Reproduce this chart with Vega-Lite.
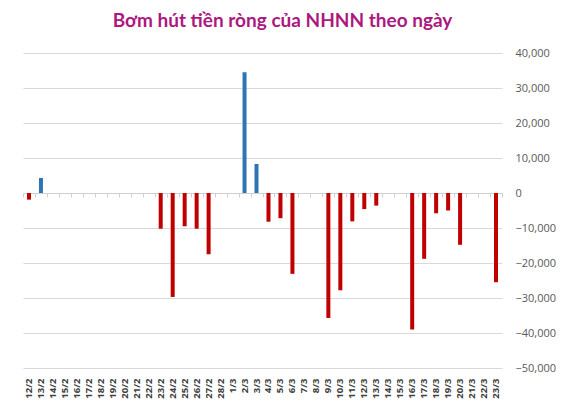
{
  "$schema": "https://vega.github.io/schema/vega-lite/v6.json",
  "autosize": "none",
  "width": 479,
  "height": 315,
  "padding": {"left": 23, "top": 53, "right": 60, "bottom": 39},
  "background": "white",
  "title": {
    "text": "Bơm hút tiền ròng của NHNN theo ngày",
    "font": "Lato",
    "fontSize": 19,
    "fontWeight": "bold",
    "color": "#AD1780",
    "anchor": "middle",
    "baseline": "alphabetic",
    "dx": 20,
    "offset": 1
  },
  "config": {
    "view": {"stroke": null},
    "axis": {"labelFont": "Open Sans", "titleFont": "Open Sans"},
    "axisY": {"title": null, "labelAlign": "left", "labelPadding": 13, "labelFontSize": 11, "labelColor": "#595959", "domain": false, "ticks": false, "grid": true, "gridColor": "#d9d9d9", "gridWidth": 1}
  },
  "data": {
    "values": [
      {"d": "12/2", "v": -1900},
      {"d": "13/2", "v": 4300},
      {"d": "23/2", "v": -10200},
      {"d": "24/2", "v": -29700},
      {"d": "25/2", "v": -9500},
      {"d": "26/2", "v": -10200},
      {"d": "27/2", "v": -17500},
      {"d": "2/3", "v": 34500},
      {"d": "3/3", "v": 8300},
      {"d": "4/3", "v": -8200},
      {"d": "5/3", "v": -7200},
      {"d": "6/3", "v": -23100},
      {"d": "9/3", "v": -35700},
      {"d": "10/3", "v": -27800},
      {"d": "11/3", "v": -8100},
      {"d": "12/3", "v": -4600},
      {"d": "13/3", "v": -3600},
      {"d": "16/3", "v": -39000},
      {"d": "17/3", "v": -18800},
      {"d": "18/3", "v": -5800},
      {"d": "19/3", "v": -5000},
      {"d": "20/3", "v": -14800},
      {"d": "23/3", "v": -25500}
    ]
  },
  "resolve": {"axis": {"x": "independent"}},
  "layer": [
    {
      "mark": {"type": "point", "opacity": 0},
      "encoding": {
        "x": {
          "field": "d", "type": "ordinal",
          "scale": {"domain": ["12/2","13/2","14/2","15/2","16/2","17/2","18/2","19/2","20/2","21/2","22/2","23/2","24/2","25/2","26/2","27/2","28/2","1/3","2/3","3/3","4/3","5/3","6/3","7/3","8/3","9/3","10/3","11/3","12/3","13/3","14/3","15/3","16/3","17/3","18/3","19/3","20/3","21/3","22/3","23/3"], "paddingInner": 0, "paddingOuter": 0},
          "axis": {"orient": "bottom", "offset": -175, "labels": false, "title": null, "domain": true, "domainColor": "#d0d0d0", "domainWidth": 1, "ticks": true, "tickColor": "#d0d0d0", "tickSize": 4, "tickBand": "extent", "grid": false}
        },
        "y": {
          "datum": 0, "type": "quantitative",
          "scale": {"domain": [-50000, 40000], "nice": false},
          "axis": {"orient": "right", "format": ",.0f", "values": [-50000,-40000,-30000,-20000,-10000,0,10000,20000,30000,40000]}
        }
      }
    },
    {
      "mark": {"type": "bar", "size": 4},
      "encoding": {
        "x": {
          "field": "d", "type": "ordinal",
          "axis": {"orient": "bottom", "title": null, "labelAngle": -90, "labelFont": "Open Sans", "labelFontSize": 9.5, "labelFontWeight": "bold", "labelColor": "#404040", "labelPadding": 10, "domain": false, "ticks": false, "grid": false}
        },
        "y": {
          "field": "v", "type": "quantitative",
          "scale": {"domain": [-50000, 40000], "nice": false},
          "axis": {"orient": "right", "format": ",.0f", "values": [-50000,-40000,-30000,-20000,-10000,0,10000,20000,30000,40000]}
        },
        "color": {
          "condition": {"test": "datum.v > 0", "value": "#2E75B6"},
          "value": "#C00000"
        }
      }
    }
  ]
}
